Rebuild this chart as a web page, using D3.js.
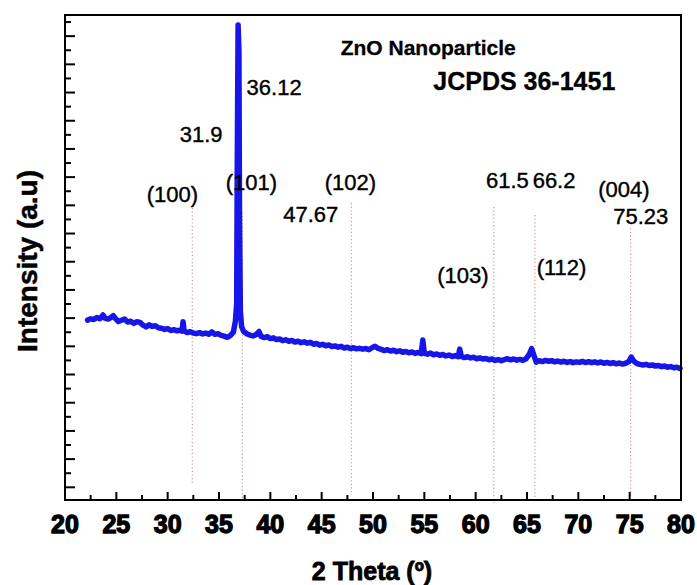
<!DOCTYPE html>
<html><head><meta charset="utf-8">
<script src="https://cdn.jsdelivr.net/npm/d3@7"></script>
<style>
body{margin:0;background:#fff;}
svg{display:block;font-family:"Liberation Sans",Arial,sans-serif;}
</style></head>
<body><svg id="c" width="697" height="585"></svg>
<script>
// ---- data ----
const twoTheta = [22.2,22.5,22.8,23.1,23.4,23.7,23.9,24.2,24.5,24.7,24.9,25.2,25.5,25.8,26.1,26.4,26.7,27.0,27.3,27.6,27.9,28.2,28.5,28.8,29.1,29.4,29.7,30.0,30.3,30.6,30.9,31.2,31.4,31.5,31.6,31.9,32.2,32.5,32.8,33.1,33.4,33.7,34.0,34.3,34.6,34.9,35.2,35.5,35.8,36.1,36.4,36.6,36.72,36.78,36.86,36.94,37.0,37.08,37.2,37.4,37.7,38.0,38.3,38.6,38.9,39.1,39.4,39.7,40.0,40.3,40.6,40.9,41.2,41.5,41.8,42.1,42.4,42.7,43.0,43.3,43.6,43.9,44.2,44.5,44.8,45.1,45.4,45.7,46.0,46.3,46.6,46.9,47.2,47.5,47.8,48.1,48.4,48.7,49.0,49.3,49.6,49.9,50.2,50.5,50.8,51.1,51.4,51.7,52.0,52.3,52.6,52.9,53.2,53.5,53.8,54.1,54.4,54.7,54.85,55.0,55.3,55.6,55.9,56.2,56.5,56.8,57.1,57.4,57.7,58.0,58.3,58.45,58.6,58.9,59.2,59.5,59.8,60.1,60.4,60.7,61.0,61.3,61.6,61.9,62.2,62.5,62.8,63.1,63.4,63.7,64.0,64.3,64.6,64.9,65.2,65.45,65.7,65.9,66.2,66.5,66.8,67.1,67.4,67.7,68.0,68.3,68.6,68.9,69.2,69.5,69.8,70.1,70.4,70.7,71.0,71.3,71.6,71.9,72.2,72.5,72.8,73.1,73.4,73.7,74.0,74.3,74.6,74.9,75.15,75.4,75.7,76.0,76.3,76.6,76.9,77.2,77.5,77.8,78.1,78.4,78.7,79.0,79.3,79.6,79.9];
const intensity = [1186,1195,1190,1204,1196,1222,1200,1193,1206,1218,1198,1176,1185,1194,1172,1178,1163,1175,1170,1150,1138,1152,1141,1146,1132,1128,1120,1126,1112,1118,1110,1114,1108,1175,1110,1098,1104,1094,1090,1097,1088,1094,1086,1102,1085,1090,1078,1072,1064,1076,1100,1180,1300,2300,3279,3100,1900,1250,1140,1105,1090,1080,1074,1082,1105,1070,1062,1068,1055,1060,1048,1052,1040,1046,1036,1042,1030,1036,1026,1032,1022,1028,1015,1020,1008,1014,1004,1010,998,1003,994,1000,988,994,984,990,982,986,980,984,976,990,1000,985,978,970,976,966,972,962,968,958,964,954,960,950,956,948,1045,950,944,952,940,946,936,942,932,938,928,934,926,980,928,920,926,918,922,912,918,910,914,905,910,900,906,898,905,912,904,910,902,907,900,912,940,984,930,888,898,892,900,894,898,890,896,888,894,886,892,884,890,886,893,885,891,884,890,882,889,880,886,878,884,876,882,874,880,890,924,895,878,872,868,872,864,868,860,864,856,860,852,856,848,852,842];

const refPos    = [32.4, 37.27, 47.9, 61.77, 65.77, 75.09];
const refTop    = [1981, 1950, 2017, 1988, 1931, 1837];
const refBottom = [16, -76, -55, -111, -69, -69];

const peakLabels = ["36.12","31.9","(100)","(101)","(102)","47.67","61.5","66.2","(004)","75.23","(103)","(112)"];
const peakLabelX = [37.69,31.18,27.96,35.65,45.29,41.26,61.01,65.55,71.94,73.40,56.26,65.94];
const peakLabelY = [2783,2451,2025,2108,2108,1884,2120,2120,2061,1867,1447,1506];

const xTicks = [20,25,30,35,40,45,50,55,60,65,70,75,80];
const xMinor = [22.5,27.5,32.5,37.5,42.5,47.5,52.5,57.5,62.5,67.5,72.5,77.5];
const yTicks = d3.range(0, 3301, 100);

// ---- layout ----
const svg = d3.select("#c");
const L=65, R=681, T=15, B=500;
const x = d3.scaleLinear().domain([20,80]).range([L,R]);
const y = d3.scaleLinear().domain([-90,3350]).range([B,T]);

// reference dotted lines
svg.append("g").selectAll("line").data(refPos).join("line")
  .attr("x1",d=>x(d)).attr("x2",d=>x(d))
  .attr("y1",(d,i)=>y(refTop[i])).attr("y2",(d,i)=>y(refBottom[i]))
  .attr("stroke","#c99a9a").attr("stroke-width",1.2).attr("stroke-dasharray","1.2,2.4");

// curve
const pts = twoTheta.map((t,i)=>[t,intensity[i]]);
svg.append("path").datum(pts)
  .attr("d", d3.line().x(d=>x(d[0])).y(d=>y(d[1])))
  .attr("fill","none").attr("stroke","#1616e8").attr("stroke-width",5.5)
  .attr("stroke-linejoin","round").attr("stroke-linecap","round");

// frame
svg.append("rect").attr("x",L).attr("y",T).attr("width",R-L).attr("height",B-T)
  .attr("fill","none").attr("stroke","#000").attr("stroke-width",2);

// x axis ticks (inward)
svg.append("g").selectAll("line").data(xTicks).join("line")
  .attr("x1",d=>x(d)).attr("x2",d=>x(d)).attr("y1",B).attr("y2",B-8)
  .attr("stroke","#000").attr("stroke-width",2);
svg.append("g").selectAll("line").data(xMinor).join("line")
  .attr("x1",d=>x(d)).attr("x2",d=>x(d)).attr("y1",B).attr("y2",B-5)
  .attr("stroke","#000").attr("stroke-width",2);
svg.append("g").selectAll("text").data(xTicks).join("text")
  .attr("x",d=>x(d)).attr("y",533).attr("text-anchor","middle")
  .attr("font-size",25).attr("font-weight","bold")
  .attr("stroke","#000").attr("stroke-width",1.3)
  .text(d=>d);

// y axis ticks (inward)
svg.append("g").selectAll("line").data(yTicks).join("line")
  .attr("x1",L).attr("x2",d=>L+(d%200===0?10:6))
  .attr("y1",d=>y(d)).attr("y2",d=>y(d))
  .attr("stroke","#000").attr("stroke-width",2);

// axis titles
svg.append("text").attr("x",372).attr("y",580).attr("text-anchor","middle")
  .attr("font-size",25).attr("font-weight","bold").attr("stroke","#000").attr("stroke-width",0.8)
  .text("2 Theta (º)");
svg.append("text").attr("transform","translate(37,261) rotate(-90)").attr("text-anchor","middle")
  .attr("font-size",28).attr("font-weight","bold").attr("stroke","#000").attr("stroke-width",0.5)
  .text("Intensity (a.u)");

// titles inside plot
svg.append("text").attr("x",x(46.85)).attr("y",y(3066))
  .attr("font-size",21).attr("font-weight","bold").attr("stroke","#000").attr("stroke-width",0.3)
  .text("ZnO Nanoparticle");
svg.append("text").attr("x",x(55.87)).attr("y",y(2818))
  .attr("font-size",25).attr("font-weight","bold").attr("stroke","#000").attr("stroke-width",0.3)
  .text("JCPDS 36-1451");

// peak labels
svg.append("g").selectAll("text").data(peakLabels).join("text")
  .attr("x",(d,i)=>x(peakLabelX[i])).attr("y",(d,i)=>y(peakLabelY[i]))
  .attr("font-size",22).attr("fill","#000").attr("stroke","#000").attr("stroke-width",0.4)
  .text(d=>d);
</script></body></html>
